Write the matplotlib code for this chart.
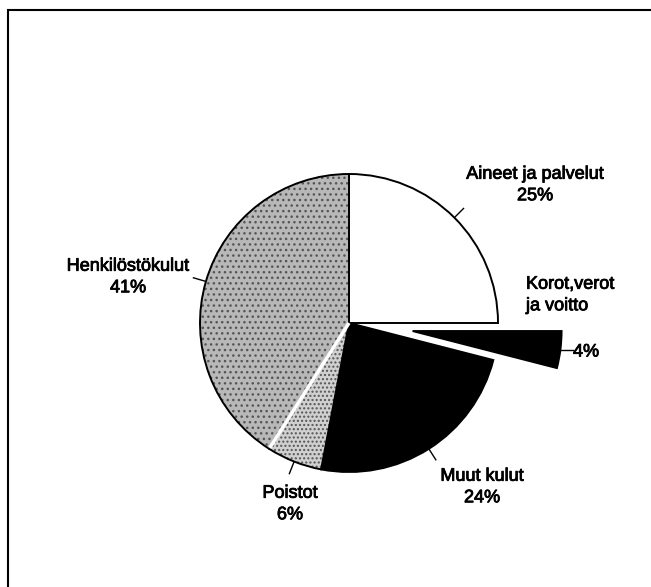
import numpy as np
import matplotlib
matplotlib.use("Agg")
import matplotlib.pyplot as plt
import matplotlib.patheffects as pe
from matplotlib.patches import Rectangle, Wedge

# kulurakenne (%)
labels = ["Aineet ja palvelut", "Korot,verot\nja voitto", "Muut kulut", "Poistot", "Henkilöstökulut"]
shares = [25, 4, 24, 6, 41]
colors = ["white", "black", "black", "#d0d0d0", "#b8b8b8"]
hatches = [None, None, None, "....", "..."]

W, H = 651, 587
plt.rcParams['font.family'] = ['Liberation Sans', 'DejaVu Sans']

fig = plt.figure(figsize=(W / 100, H / 100), dpi=100)
ax = fig.add_axes([0, 0, 1, 1])

cx, cy, R = 349, H - 323, 149
explode = [0, 0.43 * R, 0, 0, 0]

wedges, _ = ax.pie(shares, colors=colors, explode=explode, startangle=90,
                   counterclock=False, radius=R, center=(cx, cy), frame=True,
                   wedgeprops=dict(edgecolor='black', linewidth=1.4))
for w, h in zip(wedges, hatches):
    if h:
        w.set_hatch(h)
        w.set_edgecolor('#555555')
        w.set_linewidth(0.3)
        # outline again in black
        ax.add_patch(Wedge(w.center, w.r, w.theta1, w.theta2,
                           fill=False, edgecolor='black', linewidth=1.4))
ax.set_xlim(0, W)
ax.set_ylim(0, H)
ax.set_aspect('equal')
ax.axis('off')

# white seam between Poistot and Henkilöstökulut
ang = np.radians(90 - 360 * sum(shares[:4]) / 100)
ax.plot([cx, cx + (R - 1) * np.cos(ang)], [cy, cy + (R - 1) * np.sin(ang)],
        color='white', lw=2.5, solid_capstyle='butt')

# leader ticks
for i, w in enumerate(wedges):
    mid = np.radians((w.theta1 + w.theta2) / 2)
    if i == 1:
        x0 = w.center[0] + R * np.cos(mid)
        y0 = w.center[1] + R * np.sin(mid)
        ax.plot([x0, x0 + 13], [y0, y0], color='black', lw=1)
    else:
        ax.plot([cx + (R + 1) * np.cos(mid), cx + (R + 13) * np.cos(mid)],
                [cy + (R + 1) * np.sin(mid), cy + (R + 13) * np.sin(mid)],
                color='black', lw=1)

fs = 13
ls = 1.35
thick = [pe.withStroke(linewidth=0.6, foreground='black')]
kw = dict(fontsize=fs, linespacing=ls, va='center', path_effects=thick)
ax.text(535, H - 185, "Aineet ja palvelut\n25%", ha='center', **kw)
ax.text(128, H - 277, "Henkilöstökulut\n41%", ha='center', **kw)
ax.text(290, H - 504, "Poistot\n6%", ha='center', **kw)
ax.text(482, H - 487, "Muut kulut\n24%", ha='center', **kw)
ax.text(526, H - 295, "Korot,verot\nja voitto", ha='left', **kw)
ax.text(573, H - 352, "4%", ha='left', **kw)

# frame
ax.add_patch(Rectangle((8, -20), W + 20, H - 10 + 20, fill=False, edgecolor='black', lw=1.5, clip_on=False))

fig.savefig("out.png", dpi=100)
